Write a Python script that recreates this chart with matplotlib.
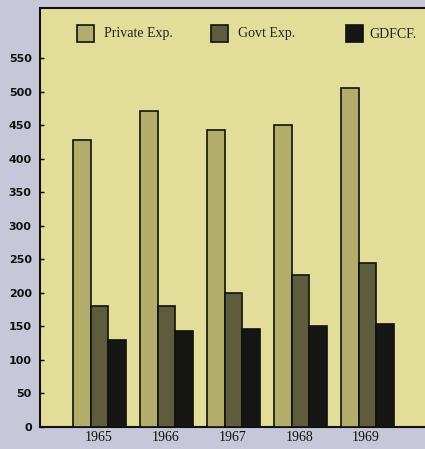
import matplotlib
matplotlib.use("Agg")
import matplotlib.pyplot as plt
from matplotlib.patches import Rectangle
import numpy as np

years = ["1965", "1966", "1967", "1968", "1969"]
series_names = ["Private Exp.", "Govt Exp.", "GDFCF."]
private_exp = [428, 471, 443, 450, 506]
govt_exp = [180, 180, 200, 227, 245]
gdfcf = [130, 143, 146, 150, 154]
y_ticks = [0, 50, 100, 150, 200, 250, 300, 350, 400, 450, 500, 550]

colors = ["#b3ad6c", "#5f5b3d", "#161614"]
bg_out = "#c6c7d9"
panel = "#e3dd9a"

W, H = 425, 449
fig = plt.figure(figsize=(W / 100, H / 100), dpi=100, facecolor=bg_out)
ax = fig.add_axes([40 / W, 22 / H, 1 - 40 / W, (427 - 8) / H])
ax.set_facecolor(panel)

x = np.arange(len(years))
bw = 0.26
series = [private_exp, govt_exp, gdfcf]
for i, (vals, c) in enumerate(zip(series, colors)):
    ax.bar(x + (i - 1) * bw + 0.02, vals, bw, color=c, edgecolor="#111111", linewidth=1.2, zorder=3)

ax.set_xlim(-0.87, 4.88)
ax.set_ylim(0, 625)
ax.set_yticks(y_ticks)
ax.set_yticklabels([str(t) for t in y_ticks], fontsize=8, fontweight="bold",
                   family="DejaVu Sans", color="#111111")
ax.set_xticks(x)
ax.set_xticklabels(years, fontsize=10, family="Liberation Serif", color="#111111")
ax.tick_params(axis="x", length=0, pad=3)
ax.tick_params(axis="y", length=3, width=1, direction="in", pad=6)
for s in ["left", "bottom", "top"]:
    ax.spines[s].set_linewidth(1.5)
    ax.spines[s].set_color("#111111")
ax.spines["right"].set_visible(False)

# legend
leg_x = [77, 211, 346]
text_x = [104, 238, 369]
for i, name in enumerate(series_names):
    fig.patches.append(Rectangle((leg_x[i] / W, 1 - 42 / H), 17 / W, 17 / H,
                                 transform=fig.transFigure, facecolor=colors[i],
                                 edgecolor="#111111", linewidth=1.2))
    fig.text(text_x[i] / W, 1 - 34 / H, name, fontsize=10, family="Liberation Serif",
             va="center", ha="left", color="#222222")

fig.savefig("out.png", dpi=100, facecolor=bg_out)
